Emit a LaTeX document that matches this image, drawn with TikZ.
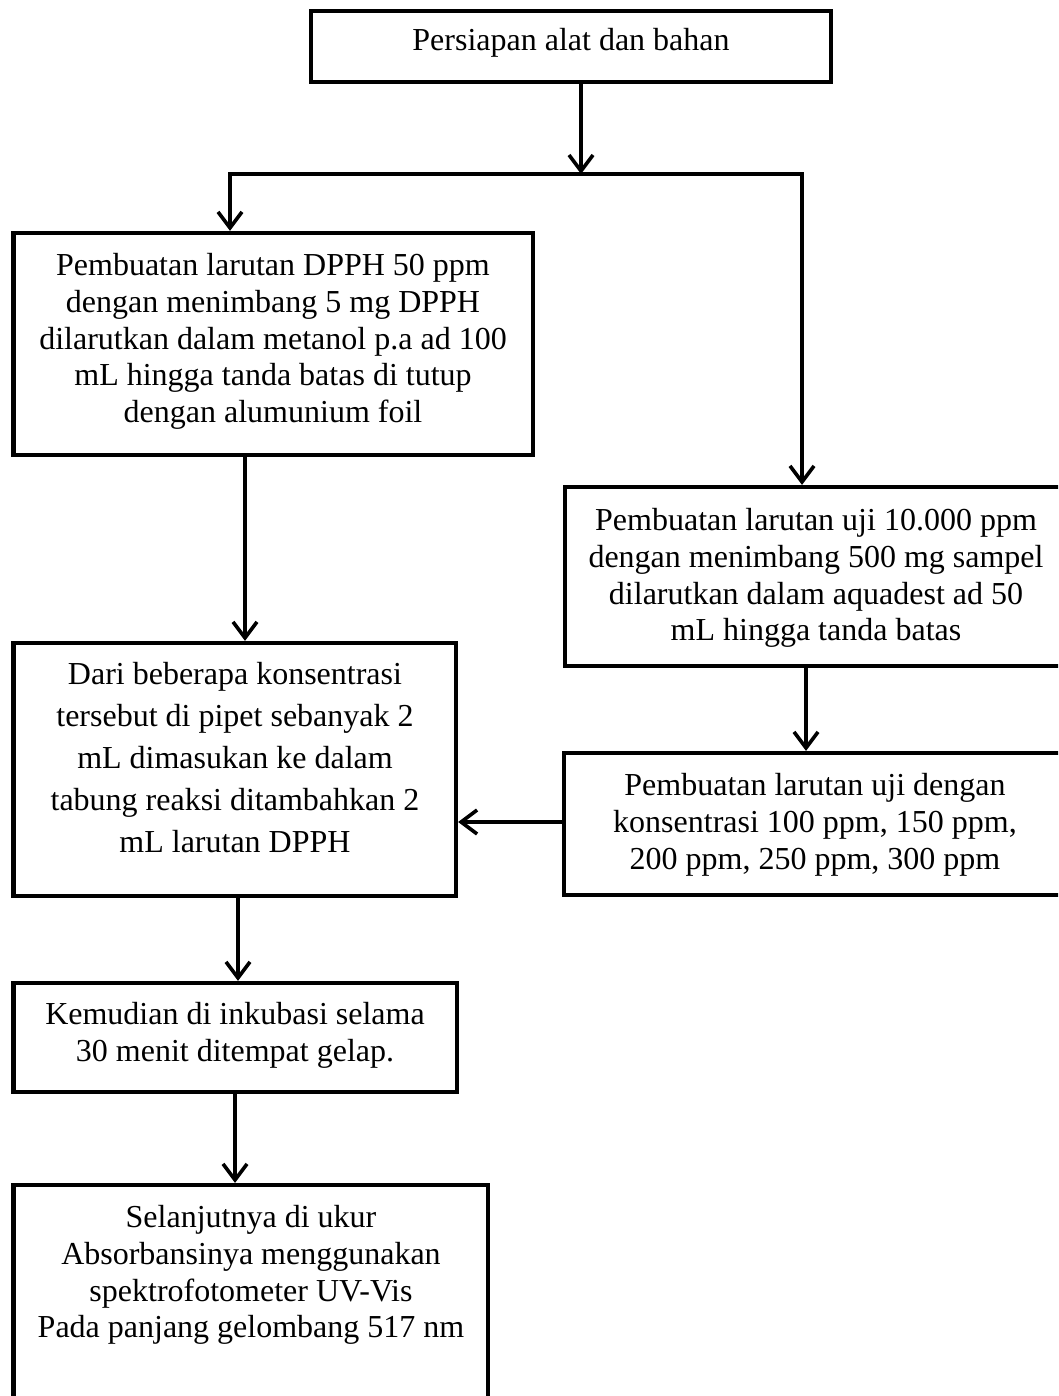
\documentclass[tikz,border=0pt]{standalone}
\usepackage{fontspec}
\setmainfont{Liberation Serif}
\usetikzlibrary{arrows.meta}
\begin{document}
\begin{tikzpicture}[x=1pt,y=-1pt,
  box/.style={draw, line width=4.2pt, inner sep=0pt, rectangle},
  txt/.style={align=center, inner sep=0pt, font=\fontsize{32}{36.8}\selectfont},
  ln/.style={line width=3.6pt},
  arr/.style={line width=3.6pt, -{Straight Barb[length=16pt,width=24pt]}}]
\useasboundingbox (0,0) rectangle (1058,1396);
\fill[white] (0,0) rectangle (1058,1396);
\clip (0,0) rectangle (1058,1396);

% boxes
\node[box, minimum width=520, minimum height=71] (bTop) at (571,46.5) {};
\node[txt] (tTop) at (571,43) {Persiapan alat dan bahan};

\node[box, minimum width=519.5, minimum height=222] (bA) at (273.25,344) {};
\node[txt] (tA) at (273,341.5) {Pembuatan larutan DPPH 50 ppm\\dengan menimbang 5 mg DPPH\\dilarutkan dalam metanol p.a ad 100\\mL hingga tanda batas di tutup\\dengan alumunium foil};

\node[box, minimum width=502, minimum height=179] (bB) at (816,576.5) {};
\node[txt] (tB) at (816,578) {Pembuatan larutan uji 10.000 ppm\\dengan menimbang 500 mg sampel\\dilarutkan dalam aquadest ad 50\\mL hingga tanda batas};

\node[box, minimum width=503, minimum height=142] (bC) at (815.5,824) {};
\node[txt] (tC) at (815,824.5) {Pembuatan larutan uji dengan\\konsentrasi 100 ppm, 150 ppm,\\200 ppm, 250 ppm, 300 ppm};

\node[box, minimum width=442.5, minimum height=253] (bD) at (234.75,769.5) {};
\node[txt, font=\fontsize{32}{42}\selectfont] (tD) at (235,758) {Dari beberapa konsentrasi\\tersebut di pipet sebanyak 2\\mL dimasukan ke dalam\\tabung reaksi ditambahkan 2\\mL larutan DPPH};

\node[box, minimum width=443.5, minimum height=109] (bE) at (235.25,1037.5) {};
\node[txt] (tE) at (235,1035.5) {Kemudian di inkubasi selama\\30 menit ditempat gelap.};

\node[box, minimum width=474.5, minimum height=245] (bF) at (250.75,1307.5) {};
\node[txt] (tF) at (251,1275) {Selanjutnya di ukur\\Absorbansinya menggunakan\\spektrofotometer UV-Vis\\Pada panjang gelombang 517 nm};

% helper coordinates
\coordinate (split) at (581,174);
\coordinate (jl) at (230,174);
\coordinate (jr) at (802,174);
\coordinate (xAD) at (245,0);
\coordinate (xBC) at (806,0);
\coordinate (yCD) at (0,822);
\coordinate (xDE) at (238,0);
\coordinate (xEF) at (235,0);

% connectors
\draw[arr] (bTop.south -| split) -- (split);
\draw[arr] (jr) -- (jl) -- (bA.north -| jl);
\draw[arr] (jl) -- (jr) -- (bB.north -| jr);
\draw[arr] (bA.south -| xAD) -- (bD.north -| xAD);
\draw[arr] (bB.south -| xBC) -- (bC.north -| xBC);
\draw[arr] (bC.west |- yCD) -- (bD.east |- yCD);
\draw[arr] (bD.south -| xDE) -- (bE.north -| xDE);
\draw[arr] (bE.south -| xEF) -- (bF.north -| xEF);
\end{tikzpicture}
\end{document}
